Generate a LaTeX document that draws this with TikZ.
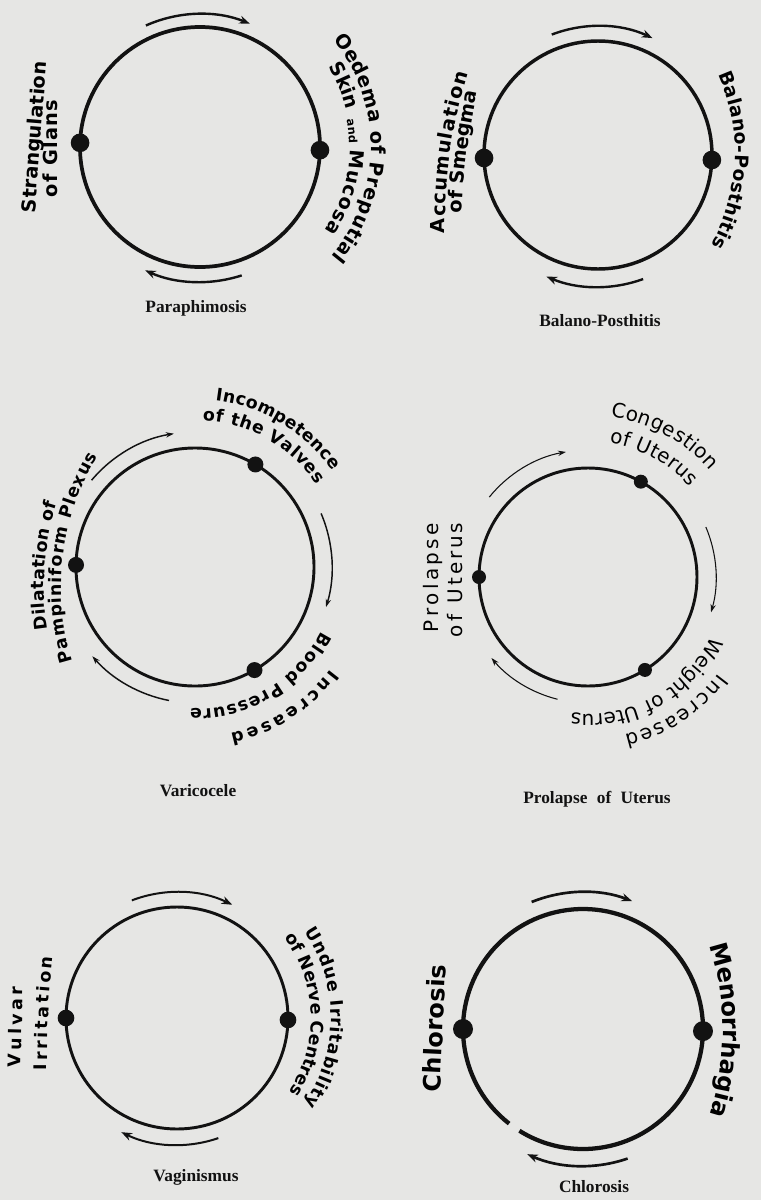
\documentclass[tikz,border=0pt]{standalone}
\usepackage{fontspec}
\usepackage{xcolor}
\usetikzlibrary{arrows.meta,calc,decorations.text}
\newfontfamily\labfont{DejaVu Sans}
\newfontfamily\titfont{Liberation Serif}
\definecolor{paper}{HTML}{E6E6E4}
\definecolor{ink}{HTML}{121212}
% lettering sizes, one per diagram
\newcommand{\lfA}{\labfont\bfseries\fontsize{14.5}{16}\selectfont}
\newcommand{\lfS}{\labfont\bfseries\fontsize{8.5}{10}\selectfont}
\newcommand{\lfB}{\labfont\bfseries\fontsize{14}{16}\selectfont}
\newcommand{\lfC}{\labfont\bfseries\fontsize{13}{15}\selectfont}
\newcommand{\lfD}{\labfont\fontsize{15}{17}\selectfont}
\newcommand{\lfE}{\labfont\bfseries\fontsize{13}{15}\selectfont}
\newcommand{\lfF}{\labfont\bfseries\fontsize{18}{20}\selectfont}
% text on an arc: [align], format, centre, radius, from, to, text
\newcommand{\arctext}[7][fit to path]{\path[decorate,decoration={text along path,text align=#1,text={|#2|#7}}]
  ($(#3)+(#5:#4)$) arc[start angle=#5,end angle=#6,radius=#4];}
% text on a (slightly bent) line: format, from, bend, to, text
\newcommand{\linetext}[5]{\path[decorate,decoration={text along path,text align=fit to path,text={|#1|#5}}]
  (#2) to[bend left=#3] (#4);}

\begin{document}
\begin{tikzpicture}[x=0.75pt,y=0.75pt,
  ring/.style={draw=ink,line width=#1},
  dot/.style={circle,fill=ink,inner sep=0pt,minimum size=#1},
  cyc/.style={-{Stealth[length=8pt,width=6pt]},draw=ink,line width=#1},
  cycthin/.style={-{Stealth[length=6pt,width=4pt]},draw=ink,line width=#1},
  title/.style={font=\titfont\bfseries\fontsize{13}{15}\selectfont,text=ink}]
  \useasboundingbox (0,0) rectangle (761,-1200);
  \fill[paper] (0,0) rectangle (761,-1200);
  % Paraphimosis
  \coordinate (para) at (200,-147);
  \draw[ring=2.8pt] (para) circle[radius=120];
  \node[dot=14pt] (para-l) at ($(para)+(178:120)$) {};
  \node[dot=14pt] (para-r) at ($(para)+(-1.5:120)$) {};
  \draw[cyc=1.8pt] ($(para)+(114:133)$) arc[start angle=114,end angle=68,radius=133];
  \draw[cyc=1.8pt] ($(para)+(-72:135)$) arc[start angle=-72,end angle=-114,radius=135];
  \linetext{\lfA}{35,-213}{0}{47,-62}{Strangulation}
  \linetext{\lfA}{57,-197}{0}{57,-100}{of Glans}
  \arctext{\lfA}{para}{171}{39}{-40}{Oedema of Preputial}
  \arctext{\lfA}{para}{151}{32}{15}{Skin}
  \arctext{\lfS}{para}{149}{10.5}{2.5}{and}
  \arctext{\lfA}{para}{150}{-1}{-34}{Mucosa}
  \node[title] (para-t) at (196,-308) {Paraphimosis};
  % Balano-Posthitis
  \coordinate (bal) at (598,-155);
  \draw[ring=2.6pt] (bal) circle[radius=114];
  \node[dot=14pt] (bal-l) at ($(bal)+(181.5:114)$) {};
  \node[dot=14pt] (bal-r) at ($(bal)+(-2.5:114)$) {};
  \draw[cyc=1.8pt] ($(bal)+(111:129)$) arc[start angle=111,end angle=65,radius=129];
  \draw[cyc=1.8pt] ($(bal)+(-70:132)$) arc[start angle=-70,end angle=-113,radius=132];
  \linetext{\lfA}{445,-233}{8}{468,-73}{Accumulation}
  \linetext{\lfA}{462,-213}{4}{477,-92}{of Smegma}
  \arctext{\lfB}{543,-153}{192}{24.2}{-28.8}{Balano-Posthitis}
  \node[title] (bal-t) at (600,-321) {Balano-Posthitis};
  % Varicocele
  \coordinate (vari) at (195,-567);
  \draw[ring=2.2pt] (vari) circle[radius=119];
  \node[dot=12pt] (vari-l) at ($(vari)+(179:119)$) {};
  \node[dot=12pt] (vari-t) at ($(vari)+(59.5:119)$) {};
  \node[dot=12pt] (vari-b) at ($(vari)+(-60:119)$) {};
  \draw[cycthin=1.1pt] ($(vari)+(140:135)$) arc[start angle=140,end angle=99,radius=135];
  \draw[cycthin=1.1pt] ($(vari)+(23:137)$) arc[start angle=23,end angle=-17,radius=137];
  \draw[cycthin=1.1pt] ($(vari)+(-101:136)$) arc[start angle=-101,end angle=-139,radius=136];
  \arctext{\lfC}{vari}{168}{83}{35}{Incompetence}
  \arctext{\lfC}{vari}{147}{87}{34}{of the Valves}
  \arctext{\lfC}{vari}{170}{-37}{-78}{Increased}
  \arctext{\lfC}{vari}{142}{-27}{-92}{Blood Pressure}
  \arctext{\lfC}{315,-587}{271}{189}{162}{Dilatation of}
  \arctext{\lfC}{315,-587}{254}{197}{149}{Pampiniform Plexus}
  \node[title] (vari-tt) at (198,-791) {Varicocele};
  % Prolapse of Uterus
  \coordinate (prol) at (588,-577);
  \draw[ring=2.2pt] (prol) circle[radius=109];
  \node[dot=10.5pt] (prol-l) at ($(prol)+(180:109)$) {};
  \node[dot=10.5pt] (prol-t) at ($(prol)+(61:109)$) {};
  \node[dot=10.5pt] (prol-b) at ($(prol)+(-58.5:109)$) {};
  \draw[cycthin=0.8pt] ($(prol)+(141:127)$) arc[start angle=141,end angle=100,radius=127];
  \draw[cycthin=0.8pt] ($(prol)+(23:128)$) arc[start angle=23,end angle=-16,radius=128];
  \draw[cycthin=0.8pt] ($(prol)+(-104:126)$) arc[start angle=-104,end angle=-140,radius=126];
  \linetext{\lfD}{438,-632}{0}{438,-523}{Prolapse}
  \linetext{\lfD}{462,-637}{0}{462,-523}{of Uterus}
  \arctext{\lfD}{prol}{162}{82}{41}{Congestion}
  \arctext{\lfD}{prol}{136}{81}{41.5}{of Uterus}
  \arctext{\lfD}{prol}{162}{-36.6}{-77}{Increased}
  \arctext{\lfD}{prol}{137}{-25.5}{-97}{Weight of Uterus}
  \node[title] (prol-tt) at (597,-799) {Prolapse\hspace{7pt}of\hspace{7pt}Uterus};
  % Vaginismus
  \coordinate (vag) at (177,-1018);
  \draw[ring=2.2pt] (vag) circle[radius=111];
  \node[dot=12.5pt] (vag-l) at ($(vag)+(180:111)$) {};
  \node[dot=12.5pt] (vag-r) at ($(vag)+(-1:111)$) {};
  \draw[cyc=1.5pt] ($(vag)+(111:126)$) arc[start angle=111,end angle=64,radius=126];
  \draw[cyc=1.5pt] ($(vag)+(-71:127)$) arc[start angle=-71,end angle=-116,radius=127];
  \linetext{\lfE}{21,-1067}{0}{23,-987}{Vulvar}
  \linetext{\lfE}{47,-1070}{3}{53,-957}{Irritation}
  \arctext{\lfE}{vag}{154}{34}{-34}{Undue Irritability}
  \arctext{\lfE}{vag}{134}{37}{-33}{of Nerve Centres}
  \node[title] (vag-t) at (196,-1177) {Vaginismus};
  % Chlorosis
  \coordinate (chl) at (583,-1029);
  \draw[ring=3.2pt] ($(chl)+(-122:120)$) arc[start angle=-122,end angle=232,radius=120];
  \node[dot=15pt] (chl-l) at ($(chl)+(180:120)$) {};
  \node[dot=15pt] (chl-r) at ($(chl)+(-1:120)$) {};
  \draw[cyc=2pt] ($(chl)+(112:137)$) arc[start angle=112,end angle=69,radius=137];
  \draw[cyc=2pt] ($(chl)+(-71:137)$) arc[start angle=-71,end angle=-114,radius=137];
  \linetext{\lfF}{440,-1092}{0}{446,-965}{Chlorosis}
  \arctext[center]{\lfF}{450,-1030}{273}{40}{-40}{Menorrhagia}
  \node[title] (chl-t) at (594,-1187) {Chlorosis};
\end{tikzpicture}
\end{document}
